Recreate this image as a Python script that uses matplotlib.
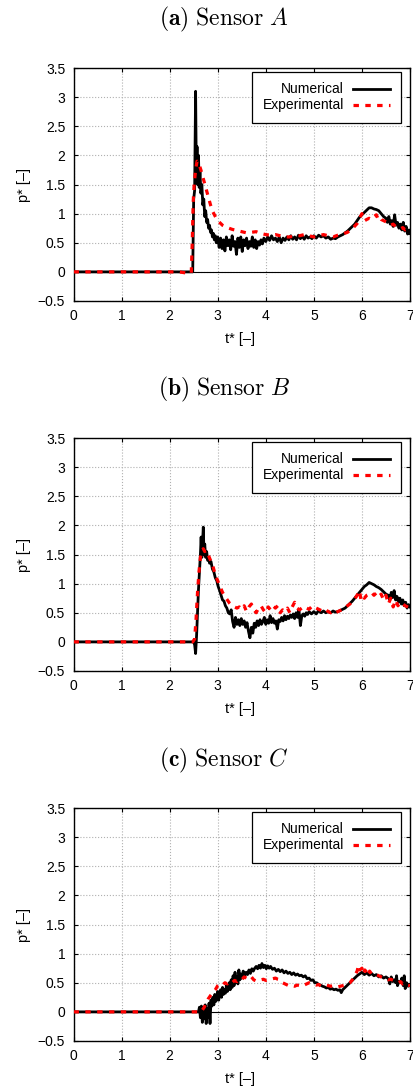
import numpy as np
import matplotlib
matplotlib.use('Agg')
import matplotlib.pyplot as plt

plt.rcParams['font.family'] = ['Liberation Sans', 'DejaVu Sans']
plt.rcParams['mathtext.fontset'] = 'cm'

# sensor A
a_num_t = [0.00, 2.48, 2.50, 2.52, 2.54, 2.555, 2.57, 2.585, 2.60, 2.615, 2.63, 2.65, 2.67, 2.69,
           2.71, 2.73, 2.75, 2.77, 2.79, 2.81, 2.83, 2.85, 2.87, 2.89, 2.91, 2.93, 2.95, 2.97,
           3.00, 3.03, 3.06, 3.09, 3.12, 3.15, 3.18, 3.21, 3.24, 3.27, 3.30, 3.33, 3.36, 3.39,
           3.42, 3.45, 3.48, 3.51, 3.54, 3.57, 3.60, 3.63, 3.66, 3.69, 3.72, 3.75, 3.78, 3.81,
           3.84, 3.87, 3.90, 3.93, 3.96, 4.00, 4.04, 4.08, 4.12, 4.16, 4.20, 4.24, 4.28, 4.32,
           4.36, 4.40, 4.44, 4.48, 4.52, 4.56, 4.60, 4.64, 4.68, 4.72, 4.76, 4.80, 4.84, 4.88,
           4.92, 4.96, 5.00, 5.05, 5.10, 5.15, 5.20, 5.25, 5.30, 5.35, 5.40, 5.45, 5.50, 5.55,
           5.60, 5.65, 5.70, 5.75, 5.80, 5.85, 5.90, 5.95, 6.00, 6.05, 6.10, 6.15, 6.20, 6.25,
           6.30, 6.35, 6.40, 6.45, 6.50, 6.53, 6.56, 6.59, 6.62, 6.65, 6.68, 6.71, 6.74, 6.77,
           6.80, 6.83, 6.86, 6.89, 6.92, 6.95, 6.98, 7.00]
a_num_p = [0, 0, 1.25, 1.4, 3.1, 1.7, 2.15, 1.5, 2.0, 1.45, 1.75, 1.35, 1.5, 1.15,
           1.25, 0.95, 1.05, 0.85, 0.9, 0.75, 0.8, 0.68, 0.72, 0.6, 0.66, 0.55, 0.62, 0.5,
           0.6, 0.42, 0.58, 0.4, 0.55, 0.36, 0.6, 0.45, 0.55, 0.38, 0.62, 0.44, 0.52, 0.3,
           0.58, 0.42, 0.6, 0.35, 0.55, 0.45, 0.58, 0.4, 0.52, 0.44, 0.6, 0.42, 0.55, 0.4,
           0.52, 0.46, 0.55, 0.48, 0.58, 0.52, 0.6, 0.54, 0.62, 0.55, 0.58, 0.52, 0.6, 0.5,
           0.58, 0.54, 0.6, 0.55, 0.62, 0.56, 0.6, 0.55, 0.63, 0.57, 0.61, 0.56, 0.62, 0.58,
           0.6, 0.57, 0.62, 0.58, 0.63, 0.6, 0.62, 0.58, 0.6, 0.56, 0.58, 0.57, 0.6, 0.62,
           0.64, 0.67, 0.7, 0.74, 0.78, 0.82, 0.88, 0.94, 0.98, 1.02, 1.06, 1.1, 1.1, 1.08,
           1.07, 1.05, 1.0, 0.95, 0.92, 0.85, 0.95, 0.82, 0.88, 0.78, 0.98, 0.8, 0.85, 0.75,
           0.82, 0.72, 0.85, 0.7, 0.78, 0.65, 0.72, 0.66]
a_exp_t = [0.0, 2.2, 2.35, 2.45, 2.47, 2.49, 2.51, 2.54, 2.57, 2.6, 2.65, 2.7, 2.75, 2.8, 2.85,
           2.9, 2.95, 3.0, 3.1, 3.2, 3.3, 3.4, 3.5, 3.6, 3.7, 3.8, 3.9, 4.0, 4.1, 4.2, 4.3,
           4.4, 4.5, 4.6, 4.7, 4.8, 4.9, 5.0, 5.1, 5.2, 5.3, 5.4, 5.5, 5.6, 5.7, 5.8, 5.9,
           5.95, 6.0, 6.03, 6.06, 6.1, 6.15, 6.2, 6.25, 6.3, 6.33, 6.36, 6.4, 6.45, 6.5, 6.55,
           6.6, 6.65, 6.7, 6.75, 6.8, 6.85, 6.9, 6.95, 7.0]
a_exp_p = [0, 0, -0.02, -0.02, 0.5, 1.2, 1.5, 1.75, 1.9, 1.88, 1.75, 1.6, 1.45, 1.3, 1.15,
           1.03, 0.95, 0.88, 0.8, 0.76, 0.73, 0.71, 0.69, 0.67, 0.68, 0.69, 0.66, 0.64, 0.63, 0.64, 0.62,
           0.6, 0.6, 0.62, 0.62, 0.64, 0.62, 0.6, 0.62, 0.64, 0.62, 0.6, 0.63, 0.65, 0.68, 0.74, 0.83,
           0.92, 1.0, 0.92, 0.88, 0.9, 0.92, 0.9, 0.95, 0.98, 0.92, 0.95, 0.9, 0.88, 0.86, 0.84,
           0.8, 0.82, 0.78, 0.76, 0.74, 0.76, 0.72, 0.74, 0.7]

# sensor B
b_num_t = [0, 2.50, 2.52, 2.54, 2.56, 2.58, 2.60, 2.62, 2.64, 2.655, 2.67, 2.685, 2.70, 2.715,
           2.73, 2.75, 2.77, 2.79, 2.81, 2.83, 2.86, 2.89, 2.92, 2.95, 2.98, 3.01, 3.04, 3.07,
           3.10, 3.13, 3.16, 3.19, 3.22, 3.25, 3.28, 3.31, 3.34, 3.37, 3.40, 3.43, 3.46, 3.49,
           3.52, 3.55, 3.58, 3.61, 3.64, 3.67, 3.70, 3.73, 3.76, 3.79, 3.82, 3.85, 3.88, 3.91,
           3.94, 3.97, 4.00, 4.03, 4.06, 4.09, 4.12, 4.15, 4.18, 4.21, 4.24, 4.27, 4.30, 4.33,
           4.36, 4.39, 4.42, 4.45, 4.48, 4.51, 4.54, 4.57, 4.60, 4.63, 4.66, 4.69, 4.72, 4.75,
           4.78, 4.81, 4.84, 4.87, 4.90, 4.95, 5.00, 5.05, 5.10, 5.15, 5.20, 5.25, 5.30, 5.35,
           5.40, 5.45, 5.50, 5.55, 5.60, 5.65, 5.70, 5.75, 5.80, 5.85, 5.90, 5.95, 6.00, 6.05,
           6.10, 6.15, 6.20, 6.25, 6.30, 6.35, 6.40, 6.45, 6.50, 6.55, 6.58, 6.61, 6.64, 6.67,
           6.70, 6.73, 6.76, 6.79, 6.82, 6.85, 6.88, 6.91, 6.94, 6.97, 7.00]
b_num_p = [0, 0, -0.05, -0.2, 0.1, 0.5, 0.9, 1.2, 1.5, 1.8, 1.45, 1.7, 1.97, 1.5,
           1.68, 1.45, 1.55, 1.4, 1.45, 1.35, 1.38, 1.25, 1.2, 1.1, 1.05, 0.95, 0.88, 0.8,
           0.72, 0.7, 0.62, 0.58, 0.5, 0.48, 0.55, 0.35, 0.25, 0.42, 0.3, 0.38, 0.28, 0.4,
           0.3, 0.36, 0.25, 0.33, 0.18, 0.07, 0.25, 0.15, 0.32, 0.25, 0.36, 0.28, 0.38, 0.3,
           0.35, 0.42, 0.3, 0.38, 0.32, 0.45, 0.33, 0.4, 0.32, 0.36, 0.22, 0.38, 0.35, 0.42,
           0.36, 0.45, 0.38, 0.44, 0.4, 0.46, 0.42, 0.48, 0.4, 0.5, 0.42, 0.55, 0.28, 0.45,
           0.48, 0.44, 0.5, 0.47, 0.52, 0.48, 0.52, 0.48, 0.54, 0.5, 0.53, 0.5, 0.52, 0.5,
           0.53, 0.51, 0.52, 0.54, 0.56, 0.58, 0.62, 0.66, 0.7, 0.75, 0.8, 0.85, 0.9, 0.95,
           0.98, 1.02, 1.0, 0.98, 0.95, 0.93, 0.9, 0.86, 0.82, 0.8, 0.72, 0.85, 0.76, 0.88,
           0.72, 0.78, 0.68, 0.75, 0.65, 0.72, 0.62, 0.68, 0.58, 0.64, 0.6]
b_exp_t = [0, 2.48, 2.52, 2.55, 2.58, 2.61, 2.64, 2.67, 2.70, 2.73, 2.76, 2.80, 2.85, 2.90,
           2.95, 3.00, 3.05, 3.10, 3.15, 3.20, 3.25, 3.30, 3.35, 3.40, 3.45, 3.50, 3.55, 3.60,
           3.65, 3.70, 3.75, 3.80, 3.85, 3.90, 3.95, 4.00, 4.05, 4.10, 4.15, 4.20, 4.25, 4.30,
           4.35, 4.40, 4.45, 4.50, 4.55, 4.60, 4.65, 4.70, 4.75, 4.80, 4.85, 4.90, 4.95, 5.00,
           5.05, 5.10, 5.15, 5.20, 5.25, 5.30, 5.35, 5.40, 5.45, 5.50, 5.55, 5.60, 5.65, 5.70,
           5.75, 5.80, 5.85, 5.90, 5.95, 5.98, 6.01, 6.05, 6.10, 6.15, 6.20, 6.25, 6.30, 6.35,
           6.40, 6.45, 6.50, 6.55, 6.60, 6.65, 6.70, 6.75, 6.80, 6.85, 6.90, 6.95, 7.00]
b_exp_p = [0, 0, 0.05, 0.4, 0.85, 1.2, 1.45, 1.55, 1.6, 1.55, 1.57, 1.5, 1.4, 1.3,
           1.15, 1.05, 0.95, 0.85, 0.78, 0.72, 0.66, 0.62, 0.6, 0.58, 0.6, 0.56, 0.62, 0.52,
           0.6, 0.65, 0.55, 0.5, 0.58, 0.62, 0.55, 0.5, 0.6, 0.55, 0.62, 0.58, 0.62, 0.5,
           0.55, 0.52, 0.58, 0.5, 0.6, 0.68, 0.58, 0.55, 0.58, 0.55, 0.58, 0.56, 0.6, 0.62,
           0.58, 0.56, 0.54, 0.52, 0.55, 0.52, 0.5, 0.53, 0.5, 0.52, 0.54, 0.56, 0.58, 0.62,
           0.65, 0.7, 0.74, 0.8, 0.88, 0.72, 0.78, 0.75, 0.8, 0.82, 0.85, 0.8, 0.84, 0.78,
           0.82, 0.72, 0.8, 0.65, 0.75, 0.6, 0.72, 0.62, 0.68, 0.65, 0.62, 0.6, 0.58]

# sensor C
c_num_t = [0, 2.60, 2.62, 2.64, 2.66, 2.68, 2.70, 2.72, 2.74, 2.76, 2.78, 2.80, 2.82, 2.84,
           2.86, 2.88, 2.90, 2.92, 2.94, 2.96, 2.98, 3.00, 3.02, 3.04, 3.06, 3.08, 3.10, 3.12,
           3.14, 3.16, 3.18, 3.20, 3.22, 3.24, 3.26, 3.28, 3.30, 3.32, 3.34, 3.36, 3.38, 3.40,
           3.42, 3.44, 3.46, 3.48, 3.50, 3.53, 3.56, 3.59, 3.62, 3.65, 3.68, 3.71, 3.74, 3.77,
           3.80, 3.83, 3.86, 3.89, 3.92, 3.95, 3.98, 4.01, 4.04, 4.07, 4.10, 4.14, 4.18, 4.22,
           4.26, 4.30, 4.34, 4.38, 4.42, 4.46, 4.50, 4.54, 4.58, 4.62, 4.66, 4.70, 4.74, 4.78,
           4.82, 4.86, 4.90, 4.94, 4.98, 5.02, 5.06, 5.10, 5.14, 5.18, 5.22, 5.26, 5.30, 5.34,
           5.38, 5.42, 5.46, 5.50, 5.54, 5.57, 5.60, 5.65, 5.70, 5.75, 5.80, 5.85, 5.90, 5.95,
           6.00, 6.05, 6.10, 6.15, 6.20, 6.25, 6.30, 6.35, 6.40, 6.45, 6.50, 6.55, 6.58, 6.61,
           6.64, 6.67, 6.70, 6.72, 6.74, 6.77, 6.80, 6.83, 6.86, 6.88, 6.90, 6.93, 6.96, 7.00]
c_num_p = [0, 0, 0.08, -0.1, 0.1, -0.18, 0.05, -0.12, 0.12, -0.2, 0.05, -0.1, 0.15, -0.2,
           0.2, 0.1, 0.25, 0.12, 0.3, 0.18, 0.22, 0.35, 0.2, 0.3, 0.38, 0.25, 0.42, 0.3,
           0.38, 0.32, 0.45, 0.35, 0.4, 0.5, 0.38, 0.55, 0.42, 0.62, 0.45, 0.68, 0.5, 0.6,
           0.48, 0.72, 0.55, 0.65, 0.58, 0.7, 0.62, 0.68, 0.64, 0.72, 0.66, 0.74, 0.7, 0.75,
           0.78, 0.74, 0.8, 0.75, 0.83, 0.76, 0.8, 0.74, 0.79, 0.75, 0.78, 0.73, 0.75, 0.7,
           0.73, 0.69, 0.72, 0.67, 0.7, 0.66, 0.68, 0.64, 0.67, 0.63, 0.65, 0.62, 0.63, 0.6,
           0.62, 0.57, 0.58, 0.54, 0.55, 0.5, 0.5, 0.47, 0.46, 0.44, 0.43, 0.41, 0.42, 0.39,
           0.4, 0.38, 0.39, 0.37, 0.38, 0.33, 0.38, 0.42, 0.46, 0.5, 0.54, 0.58, 0.62, 0.65,
           0.68, 0.64, 0.67, 0.63, 0.66, 0.62, 0.64, 0.6, 0.62, 0.58, 0.6, 0.57, 0.48, 0.6,
           0.52, 0.55, 0.5, 0.62, 0.45, 0.52, 0.5, 0.58, 0.45, 0.62, 0.4, 0.5, 0.44, 0.46]
c_exp_t = [0, 2.65, 2.68, 2.72, 2.76, 2.80, 2.85, 2.90, 2.95, 3.00, 3.05, 3.10, 3.15, 3.20,
           3.25, 3.30, 3.35, 3.40, 3.45, 3.50, 3.55, 3.60, 3.65, 3.70, 3.75, 3.80, 3.85, 3.90,
           3.95, 4.00, 4.05, 4.10, 4.15, 4.20, 4.25, 4.30, 4.35, 4.40, 4.45, 4.50, 4.55, 4.60,
           4.65, 4.70, 4.75, 4.80, 4.85, 4.90, 4.95, 5.00, 5.05, 5.10, 5.15, 5.20, 5.25, 5.30,
           5.35, 5.40, 5.45, 5.50, 5.55, 5.60, 5.65, 5.70, 5.75, 5.80, 5.85, 5.90, 5.93, 5.96,
           6.00, 6.03, 6.06, 6.10, 6.13, 6.16, 6.20, 6.25, 6.30, 6.35, 6.40, 6.45, 6.50, 6.55,
           6.60, 6.65, 6.70, 6.75, 6.80, 6.85, 6.90, 6.95, 7.00]
c_exp_p = [0, 0, 0.03, 0.08, 0.15, 0.22, 0.28, 0.33, 0.38, 0.45, 0.48, 0.46, 0.5, 0.48,
           0.52, 0.5, 0.54, 0.52, 0.56, 0.55, 0.6, 0.58, 0.56, 0.6, 0.55, 0.53, 0.54, 0.55,
           0.56, 0.54, 0.55, 0.56, 0.57, 0.58, 0.56, 0.55, 0.5, 0.48, 0.46, 0.44, 0.45, 0.44,
           0.46, 0.45, 0.44, 0.46, 0.48, 0.5, 0.49, 0.48, 0.46, 0.47, 0.44, 0.45, 0.46, 0.45,
           0.44, 0.45, 0.44, 0.43, 0.44, 0.45, 0.46, 0.48, 0.5, 0.55, 0.62, 0.7, 0.8, 0.72,
           0.75, 0.65, 0.72, 0.68, 0.62, 0.7, 0.65, 0.63, 0.64, 0.62, 0.6, 0.58, 0.57, 0.55,
           0.56, 0.54, 0.52, 0.5, 0.52, 0.48, 0.5, 0.46, 0.45]

panels = [
    (r'$\mathbf{(a)}\ \mathrm{Sensor}\ A$', a_num_t, a_num_p, a_exp_t, a_exp_p),
    (r'$\mathbf{(b)}\ \mathrm{Sensor}\ B$', b_num_t, b_num_p, b_exp_t, b_exp_p),
    (r'$\mathbf{(c)}\ \mathrm{Sensor}\ C$', c_num_t, c_num_p, c_exp_t, c_exp_p),
]

fig = plt.figure(figsize=(4.14, 10.9), dpi=100)

W, H = 414.0, 1090.0
tops = [68, 438, 808]
title_y = [19, 389, 760]

for i, (title, nt, npv, et, ep) in enumerate(panels):
    top = tops[i]
    ax = fig.add_axes([73.5 / W, 1 - (top + 233) / H, 336.5 / W, 233 / H])
    ax.grid(True, color='#b0b0b0', linestyle=':', linewidth=0.8)
    ax.set_axisbelow(True)
    ax.axhline(0, color='black', linewidth=0.8, zorder=1)
    ax.plot(nt, npv, color='black', linewidth=2.0, label='Numerical', zorder=3)
    ax.plot(et, ep, color='red', linewidth=2.3, linestyle=(0, (1.7, 2.0)),
            label='Experimental', zorder=4)
    ax.set_xlim(0, 7)
    ax.set_ylim(-0.5, 3.5)
    ax.set_xticks(range(0, 8))
    ax.set_yticks(np.arange(-0.5, 3.51, 0.5))
    ax.set_yticklabels(['\u22120.5', '0', '0.5', '1', '1.5', '2', '2.5', '3', '3.5'])
    ax.tick_params(direction='in', top=True, right=True, length=3, width=0.8,
                   labelsize=10, pad=6)
    for s in ax.spines.values():
        s.set_linewidth(1.0)
    ax.set_ylabel('p* [\u2013]', fontsize=10.5)
    ax.yaxis.set_label_coords(-0.125, 0.5)
    ax.set_xlabel('t* [\u2013]', fontsize=10.5)
    ax.xaxis.set_label_coords(0.495, -0.135)
    leg = ax.legend(loc='upper right', bbox_to_anchor=(0.973, 0.983), borderaxespad=0,
                    markerfirst=False, fancybox=False, framealpha=1, edgecolor='black',
                    fontsize=10, handlelength=2.7, labelspacing=0.15, borderpad=0.75,
                    handletextpad=0.65)
    leg.get_frame().set_linewidth(0.9)
    fig.text(224 / W, 1 - title_y[i] / H, title, ha='center', va='center', fontsize=17)

fig.savefig('out.png', dpi=100)
